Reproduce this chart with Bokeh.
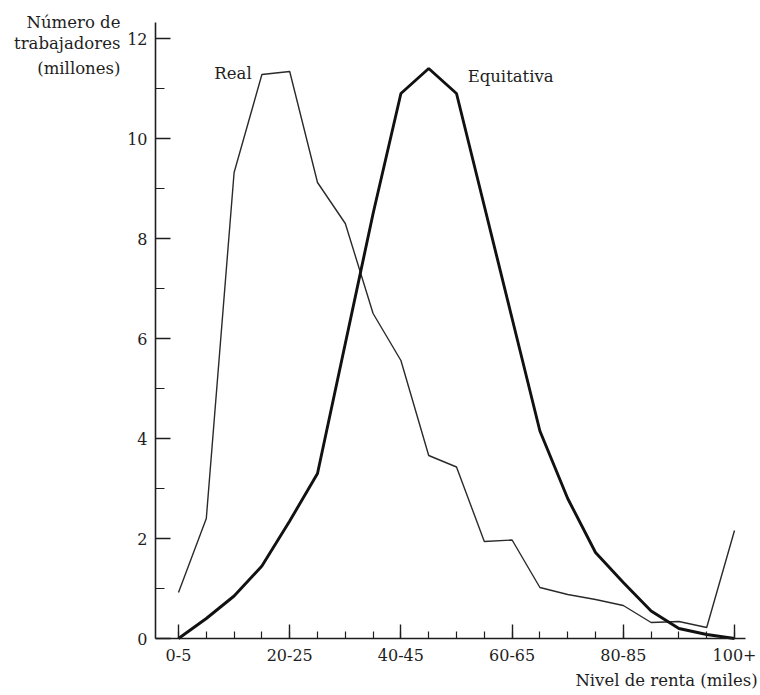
from bokeh.plotting import figure
from bokeh.models import Range1d, FixedTicker, Label
from bokeh.embed import file_html
from bokeh.resources import INLINE

# ---- data ----
categories = ["0-5", "5-10", "10-15", "15-20", "20-25", "25-30", "30-35", "35-40",
              "40-45", "45-50", "50-55", "55-60", "60-65", "65-70", "70-75", "75-80",
              "80-85", "85-90", "90-95", "95-100", "100+"]
real = [0.92, 2.4, 9.32, 11.28, 11.34, 9.12, 8.3, 6.5, 5.56, 3.66, 3.43,
        1.94, 1.97, 1.02, 0.88, 0.78, 0.66, 0.32, 0.34, 0.22, 2.16]
equitativa = [0.0, 0.4, 0.85, 1.45, 2.35, 3.3, 5.9, 8.5, 10.9, 11.4, 10.9,
              8.65, 6.4, 4.15, 2.8, 1.72, 1.12, 0.55, 0.2, 0.08, 0.0]
labelled = ["0-5", "20-25", "40-45", "60-65", "80-85", "100+"]
y_major = [0, 2, 4, 6, 8, 10, 12]
y_minor = [1, 3, 5, 7, 9, 11]

FONT = "DejaVu Serif"
INK = "#1e1e1e"

xs = list(range(len(categories)))

# frame fills the whole canvas; axes are pinned inside it
X0, X1 = -0.827, 20.396   # extent of the x axis line
Y1 = 12.32                # top of the y axis line
p = figure(width=760, height=695, output_backend="svg", toolbar_location=None,
           x_range=Range1d(-6.403, 20.935), y_range=Range1d(-1.14, 12.76),
           min_border=0)
p.title.visible = False
p.outline_line_color = None
p.xgrid.visible = False
p.ygrid.visible = False
p.background_fill_color = "white"
p.border_fill_color = "white"

p.line(xs, real, line_color="#2a2a2a", line_width=1.4)
p.line(xs, equitativa, line_color="#111111", line_width=2.9)

# y axis
ya = p.yaxis[0]
ya.fixed_location = X0
ya.bounds = (0, Y1)
ya.ticker = FixedTicker(ticks=y_major, minor_ticks=y_minor)
ya.major_tick_in = 15
ya.major_tick_out = 0
ya.minor_tick_in = 9
ya.minor_tick_out = 0
ya.axis_line_width = 1.6
ya.major_tick_line_width = 1.4
ya.minor_tick_line_width = 1.2
ya.axis_line_color = INK
ya.major_tick_line_color = INK
ya.minor_tick_line_color = INK
ya.major_label_standoff = 8
ya.major_label_text_font = FONT
ya.major_label_text_font_size = "16px"
ya.major_label_text_color = INK

# x axis
xa = p.xaxis[0]
xa.fixed_location = 0
xa.bounds = (X0, X1)
major_idx = [categories.index(c) for c in labelled]
xa.ticker = FixedTicker(ticks=major_idx, minor_ticks=xs)
xa.major_label_overrides = {i: categories[i] for i in major_idx}
xa.major_tick_in = 14
xa.major_tick_out = 0
xa.minor_tick_in = 7
xa.minor_tick_out = 0
xa.axis_line_width = 1.6
xa.major_tick_line_width = 1.4
xa.minor_tick_line_width = 1.2
xa.axis_line_color = INK
xa.major_tick_line_color = INK
xa.minor_tick_line_color = INK
xa.major_label_standoff = 10
xa.major_label_text_font = FONT
xa.major_label_text_font_size = "16px"
xa.major_label_text_color = INK

def lab(x, y, t, align="left", size="16.5px"):
    p.add_layout(Label(x=x, y=y, text=t, text_font=FONT, text_font_size=size,
                       text_color=INK, text_align=align, text_baseline="alphabetic"))

lab(1.29, 11.30, "Real")
lab(10.4, 11.24, "Equitativa")
lab(-2.09, 12.33, "Número de", align="right")
lab(-2.09, 11.90, "trabajadores", align="right")
lab(-2.09, 11.40, "(millones)", align="right")
lab(20.83, -0.84, "Nivel de renta (miles)", align="right")

open("out.html", "w").write(file_html(p, INLINE))
